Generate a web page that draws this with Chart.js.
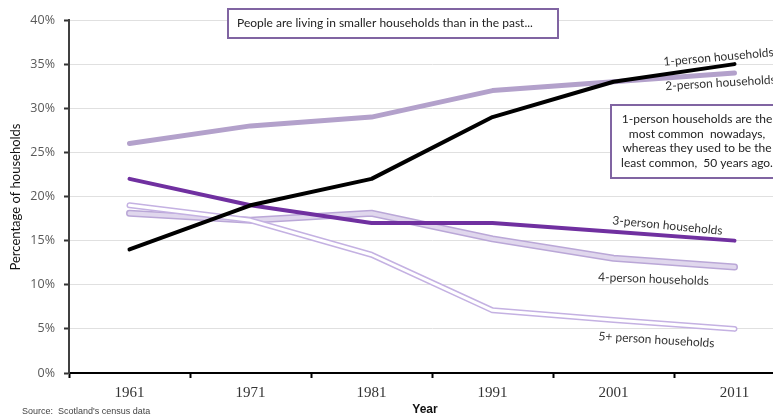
<!DOCTYPE html>
<html><head><meta charset="utf-8">
<script src="https://cdn.jsdelivr.net/npm/chart.js@4/dist/chart.umd.min.js"></script>
<style>html,body{margin:0;padding:0;overflow:hidden;background:#fff;width:773px;height:418px}#wrap{width:800px;height:418px}</style>
</head><body><div id="wrap"><canvas id="c" width="800" height="418"></canvas></div>
<script>
const years = ['1961','1971','1981','1991','2001','2011'];
const onePerson = [14, 19, 22, 29, 33, 35];
const twoPerson = [26, 28, 29, 32, 33, 34];
const threePerson = [22, 19, 17, 17, 16, 15];
const fourPerson = [18.1, 17.3, 18.1, 15.2, 13, 12];
const fivePlus = [19, 17.3, 13.4, 7.1, 6, 5];
const yTicks = [0, 5, 10, 15, 20, 25, 30, 35, 40];
const seriesLabels = ['1-person households','2-person households','3-person households','4-person households','5+ person households'];

const LBL = '12px Lato, "Open Sans", sans-serif';
const base = {pointRadius:0, pointHoverRadius:0, tension:0, fill:false, borderCapStyle:'round', borderJoinStyle:'round'};
const datasets = [
  Object.assign({label:seriesLabels[0], data:onePerson, borderColor:'#000000', borderWidth:4, order:0}, base),
  Object.assign({label:seriesLabels[2], data:threePerson, borderColor:'#7030a0', borderWidth:4, order:1}, base),
  Object.assign({label:seriesLabels[1], data:twoPerson, borderColor:'#b3a1cb', borderWidth:5, order:2}, base),
  Object.assign({label:'5i', data:fivePlus, borderColor:'#ffffff', borderWidth:3, order:3}, base),
  Object.assign({label:seriesLabels[4], data:fivePlus, borderColor:'#c4b1e2', borderWidth:6, order:4}, base),
  Object.assign({label:'4i', data:fourPerson, borderColor:'#e0d7ed', borderWidth:4, order:5}, base),
  Object.assign({label:seriesLabels[3], data:fourPerson, borderColor:'#baa7d7', borderWidth:7, order:6}, base)
];

const decor = {
  id:'decor',
  afterDraw(chart){
    const ctx = chart.ctx, xs = chart.scales.x, ys = chart.scales.y;
    const last = years.length-1;
    const xe = xs.getPixelForValue(last);
    ctx.save();
    const lab = (text, dx, val, dy, ang) => {
      ctx.save();
      ctx.translate(xe+dx, ys.getPixelForValue(val)+dy);
      ctx.rotate(ang*Math.PI/180);
      ctx.font = LBL; ctx.fillStyle = '#333'; ctx.textAlign='center'; ctx.textBaseline='middle';
      ctx.fillText(text,0,0);
      ctx.restore();
    };
    lab(seriesLabels[0], -16, onePerson[last], -7, -5);
    lab(seriesLabels[1], -14, twoPerson[last], 10, -3.5);
    lab(seriesLabels[2], -67, threePerson[last], -15, 5.5);
    lab(seriesLabels[3], -81, fourPerson[last], 12, 2);
    lab(seriesLabels[4], -78, fivePlus[last], 11, 3.5);

    ctx.fillStyle='#fff'; ctx.strokeStyle='#8064a2'; ctx.lineWidth=2;
    ctx.fillRect(228,9,330,29); ctx.strokeRect(228,9,330,29);
    ctx.font = LBL; ctx.fillStyle='#222'; ctx.textAlign='left'; ctx.textBaseline='middle';
    ctx.fillText('People are living in smaller households than in the past...', 237, 23.5);
    ctx.fillStyle='#fff'; ctx.fillRect(611,105,180,73); ctx.strokeRect(611,105,180,73);
    ctx.fillStyle='#222'; ctx.textAlign='center';
    const lines = ['1-person households are the','most common  nowadays,','whereas they used to be the','least common,  50 years ago.'];
    lines.forEach((t,i)=>ctx.fillText(t, 697, 119+i*14.7));
    ctx.save(); ctx.translate(16,197); ctx.rotate(-Math.PI/2);
    ctx.font='13px Lato, "Open Sans", sans-serif'; ctx.fillStyle='#111'; ctx.textAlign='center'; ctx.textBaseline='middle';
    ctx.fillText('Percentage of households',0,0); ctx.restore();
    ctx.font='bold 12px "Liberation Sans Narrow", "Liberation Sans", Arial, sans-serif'; ctx.fillStyle='#111'; ctx.textAlign='center';
    ctx.fillText('Year', 425, 410);
    ctx.font='9px "Liberation Sans", Arial, sans-serif'; ctx.fillStyle='#444'; ctx.textAlign='left';
    ctx.fillText("Source:  Scotland's census data", 22, 412);
    ctx.restore();
  }
};

new Chart(document.getElementById('c'), {
  type:'line',
  data:{labels:years, datasets},
  options:{
    responsive:false, animation:false,
    layout:{padding:{top:20,right:5,left:0,bottom:0}},
    plugins:{legend:{display:false}, tooltip:{enabled:false}},
    scales:{
      x:{
        offset:true,
        grid:{offset:true, drawOnChartArea:false, drawTicks:true, tickLength:5, tickColor:'#000', tickWidth:2},
        border:{color:'#000', width:2},
        ticks:{padding:6, color:'#333', font:{family:'"Liberation Serif", serif', size:15}, maxRotation:0},
        afterFit(s){ s.height = 45; }
      },
      y:{
        min:0, max:40,
        afterBuildTicks(s){ s.ticks = yTicks.map(v=>({value:v})); },
        grid:{color:'#e0e0e0', lineWidth:1, tickLength:5, tickColor:'#333', tickWidth:2},
        border:{color:'#404040', width:2},
        ticks:{padding:9, color:'#595959', font:{family:'"Open Sans", sans-serif', size:12.5}, callback:v=>v+'%'},
        afterFit(s){ s.width = 69; }
      }
    }
  },
  plugins:[decor]
});
</script>
</body></html>
